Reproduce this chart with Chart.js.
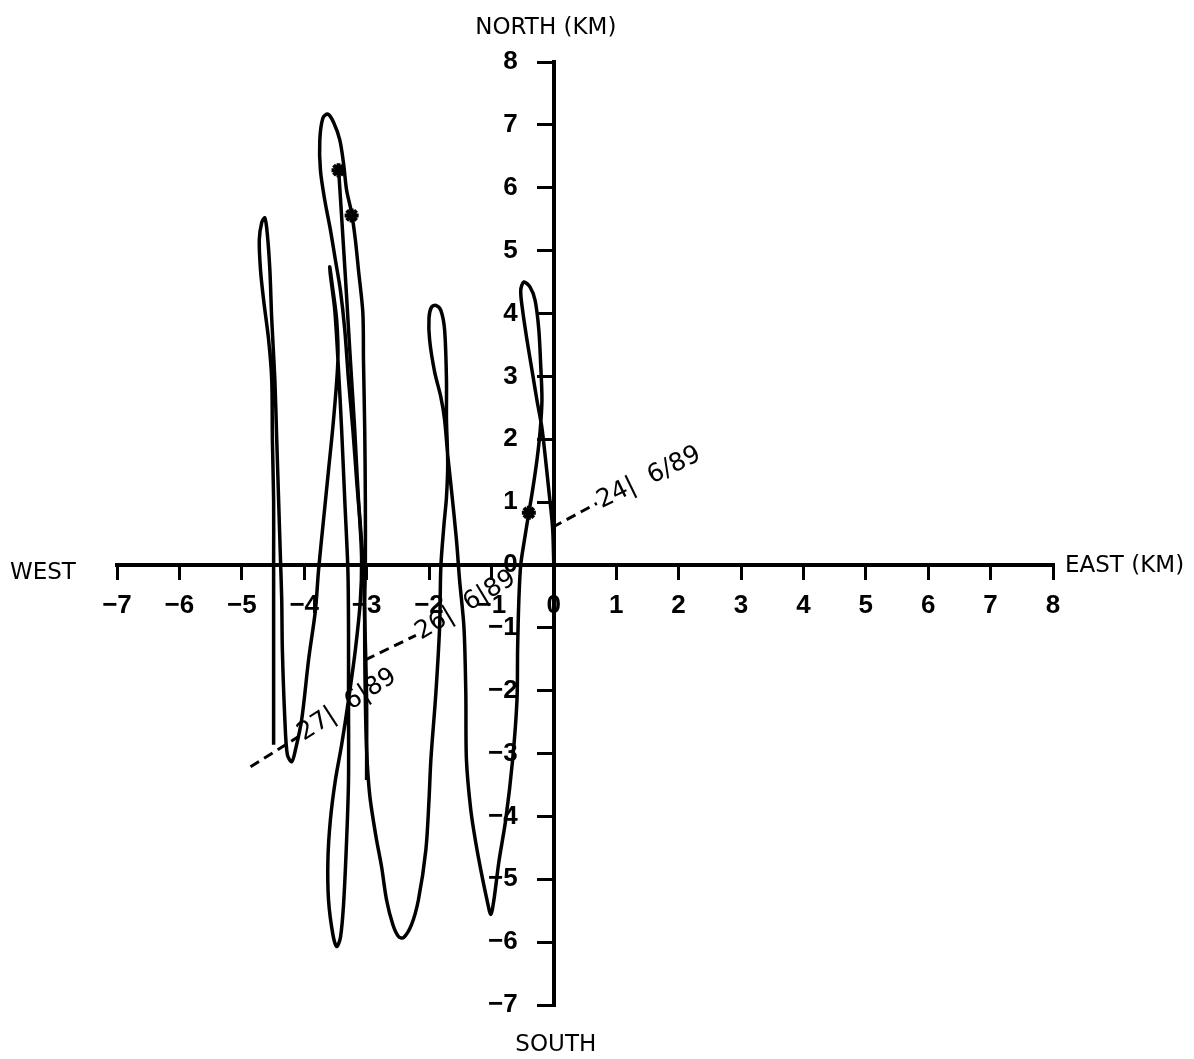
<!DOCTYPE html>
<html><head><meta charset="utf-8">
<script src="https://cdn.jsdelivr.net/npm/chart.js@4.4.1/dist/chart.umd.min.js"></script>
<style>html,body{margin:0;padding:0;background:#fff}#wrap{width:1194px;height:1059px;position:relative}</style>
</head><body><div id="wrap"><canvas id="c"></canvas></div>
<script>
// Axis ticks (km)
const tickValues = [-7,-6,-5,-4,-3,-2,-1,0,1,2,3,4,5,6,7,8];

// Progressive vector track (east km, north km)
const trackEast = [0,-0.02,-0.08,-0.14,-0.19,-0.27,-0.35,-0.43,-0.50,-0.53,-0.48,-0.38,-0.30,-0.24,-0.21,-0.19,-0.22,-0.27,-0.34,-0.40,-0.47,-0.53,-0.56,-0.58,-0.59,-0.66,-0.77,-0.88,-0.96,-1.01,
 -1.07,-1.17,-1.25,-1.33,-1.40,-1.41,-1.44,-1.51,-1.56,-1.64,-1.70,-1.75,-1.81,-1.91,-1.99,-2.00,-1.96,-1.89,-1.81,-1.75,-1.72,-1.72,-1.70,-1.72,-1.76,-1.81,-1.83,-1.89,-1.97,-2.00,-2.05,-2.17,-2.28,-2.41,
 -2.49,-2.58,-2.68,-2.76,-2.85,-2.95,-3.00,-3.02,-3.03,-3.03,-3.02,-3.02,-3.03,-3.05,-3.06,-3.13,-3.18,-3.24,-3.32,-3.37,-3.43,-3.53,-3.62,-3.70,-3.75,-3.74,-3.67,-3.58,-3.50,-3.42,-3.35,-3.29,-3.22,-3.16,-3.11,-3.08,
 -3.10,-3.18,-3.29,-3.40,-3.50,-3.58,-3.62,-3.61,-3.54,-3.48,-3.42,-3.37,-3.32,-3.29,-3.29,-3.29,-3.30,-3.35,-3.40,-3.45,-3.51,-3.58,-3.59,
 -3.55,-3.48,-3.46,-3.53,-3.61,-3.69,-3.77,-3.82,-3.93,-4.04,-4.14,-4.20,-4.27,-4.31,-4.35,-4.36,-4.38,-4.41,-4.44,-4.47,-4.52,-4.55,-4.59,-4.63,
 -4.68,-4.72,-4.70,-4.65,-4.57,-4.52,-4.51,-4.49,-4.49,-4.49,-4.49,-4.49];
const trackNorth = [0,0.60,1.19,1.75,2.18,2.62,3.10,3.58,4.05,4.37,4.50,4.42,4.21,3.74,3.18,2.62,2.12,1.67,1.19,0.83,0.40,0.00,-0.56,-1.35,-2.15,-3.10,-4.05,-4.72,-5.33,-5.56,
 -5.33,-4.85,-4.42,-3.90,-3.10,-2.04,-0.99,-0.24,0.40,1.19,1.75,2.31,2.67,3.07,3.58,3.93,4.10,4.13,4.05,3.74,2.94,2.31,1.62,1.08,0.64,-0.03,-0.99,-2.04,-3.10,-3.74,-4.53,-5.33,-5.72,-5.93,
 -5.91,-5.72,-5.33,-4.80,-4.32,-3.66,-2.94,-2.15,-1.35,-0.56,0,1.03,2.15,3.26,4.01,4.69,5.17,5.60,5.96,6.39,6.76,7.04,7.17,7.11,6.76,6.28,5.80,5.33,4.85,4.37,3.74,2.94,2.15,1.35,0.72,0.08,
 -0.56,-1.35,-2.15,-2.86,-3.42,-4.05,-4.69,-5.33,-5.88,-6.07,-5.93,-5.41,-4.37,-3.42,-2.15,-1.03,-0.08,1.03,2.15,3.10,4.05,4.61,4.74,
 4.45,3.90,3.26,2.31,1.51,0.72,-0.08,-0.72,-1.51,-2.46,-2.94,-3.13,-3.02,-2.46,-1.35,-0.56,0.08,1.03,1.99,2.94,3.90,4.69,5.25,5.52,
 5.45,5.17,4.69,4.21,3.58,2.94,1.99,1.03,0.08,-0.87,-2.15,-2.86];

// Short separate strand starting at the upper marker
const branchEast = [-3.45,-3.42,-3.37,-3.32,-3.26,-3.19,-3.13,-3.06,-3.03,-3.00,-3.00];
const branchNorth = [6.31,5.85,5.06,4.26,3.26,2.15,1.03,0.08,-0.87,-2.15,-3.42];

// Star markers
const markEast = [-0.40,-3.45,-3.24];
const markNorth = [0.83,6.28,5.56];

// Day labels with dashed leaders
const dayLabels = ['24|  6/89','26|  6|89','27|  6|89'];
const leaderStartEast = [-0.02,-3.02,-4.86];
const leaderStartNorth = [0.60,-1.51,-3.21];
const leaderEndEast = [0.69,-2.21,-4.09];
const leaderEndNorth = [0.98,-1.12,-2.73];
const labelAngle = [-26,-31,-33];

const axisTitles = ['NORTH (KM)','EAST (KM)','WEST','SOUTH'];

const pts = (xs, ys) => xs.map((x, i) => ({x, y: ys[i]}));

const datasets = [
  {data: pts(trackEast, trackNorth), showLine: true, borderColor: '#000', borderWidth: 3.5, pointRadius: 0, tension: 0.3, fill: false},
  {data: pts(branchEast, branchNorth), showLine: true, borderColor: '#000', borderWidth: 3.5, pointRadius: 0, tension: 0.3, fill: false},
  {data: pts(markEast, markNorth), showLine: false, pointStyle: 'star', pointRadius: 7, borderWidth: 4, borderColor: '#000', backgroundColor: '#000'}
];
dayLabels.forEach((l, i) => {
  datasets.push({data: [{x: leaderStartEast[i], y: leaderStartNorth[i]}, {x: leaderEndEast[i], y: leaderEndNorth[i]}],
    showLine: true, borderColor: '#000', borderWidth: 3, borderDash: [10, 6], pointRadius: 0});
});

const annot = {
  id: 'annot',
  afterDraw(chart) {
    const ctx = chart.ctx, xs = chart.scales.x, ys = chart.scales.y, a = chart.chartArea;
    ctx.save();
    ctx.fillStyle = '#000';
    ctx.font = '25px "DejaVu Sans"';
    ctx.textBaseline = 'middle';
    ctx.textAlign = 'left';
    dayLabels.forEach((l, i) => {
      const px = xs.getPixelForValue(leaderEndEast[i]);
      const py = ys.getPixelForValue(leaderEndNorth[i]);
      ctx.save();
      ctx.translate(px, py);
      ctx.rotate(labelAngle[i] * Math.PI / 180);
      ctx.fillText(l, 2, 0);
      ctx.restore();
    });
    const x0 = xs.getPixelForValue(0), y0 = ys.getPixelForValue(0);
    ctx.font = '23px "DejaVu Sans"';
    ctx.textAlign = 'center';
    ctx.fillText(axisTitles[0], x0 - 8, a.top - 34);
    ctx.fillText(axisTitles[3], x0 + 2, a.bottom + 40);
    ctx.textAlign = 'left';
    ctx.fillText(axisTitles[1], a.right + 12, y0 + 1);
    ctx.fillText(axisTitles[2], 10, y0 + 8);
    ctx.restore();
  }
};

const fmt = v => (v < 0 ? '\u2212' + Math.abs(v) : String(v));
const fmtY = v => fmt(v) + '     ';
const tickFont = {family: '"Liberation Sans"', size: 26, weight: 'bold'};

new Chart(document.getElementById('c'), {
  type: 'scatter',
  data: {datasets},
  plugins: [annot],
  options: {
    responsive: true, maintainAspectRatio: false, animation: false,
    layout: {padding: {left: 117, right: 141, top: 62, bottom: 54}},
    plugins: {legend: {display: false}, tooltip: {enabled: false}},
    scales: {
      x: {type: 'linear', min: -7, max: 8, position: {y: 0},
        afterFit: s => { s.height = 0; },
        afterBuildTicks: s => { s.ticks = tickValues.map(v => ({value: v})); },
        border: {display: true, width: 4, color: '#000'},
        grid: {display: true, drawOnChartArea: false, drawTicks: true, tickLength: 13, lineWidth: 3, color: '#000'},
        ticks: {autoSkip: false, maxRotation: 0, color: '#000', padding: 12, font: tickFont, callback: fmt}},
      y: {type: 'linear', min: -7, max: 8, position: {x: 0},
        afterFit: s => { s.width = 0; },
        afterBuildTicks: s => { s.ticks = tickValues.map(v => ({value: v})); },
        border: {display: true, width: 4, color: '#000'},
        grid: {display: true, drawOnChartArea: false, drawTicks: true, tickLength: 15, lineWidth: 3, color: '#000'},
        ticks: {autoSkip: false, color: '#000', padding: 16, font: tickFont, callback: fmtY}}
    }
  }
});
</script></body></html>
